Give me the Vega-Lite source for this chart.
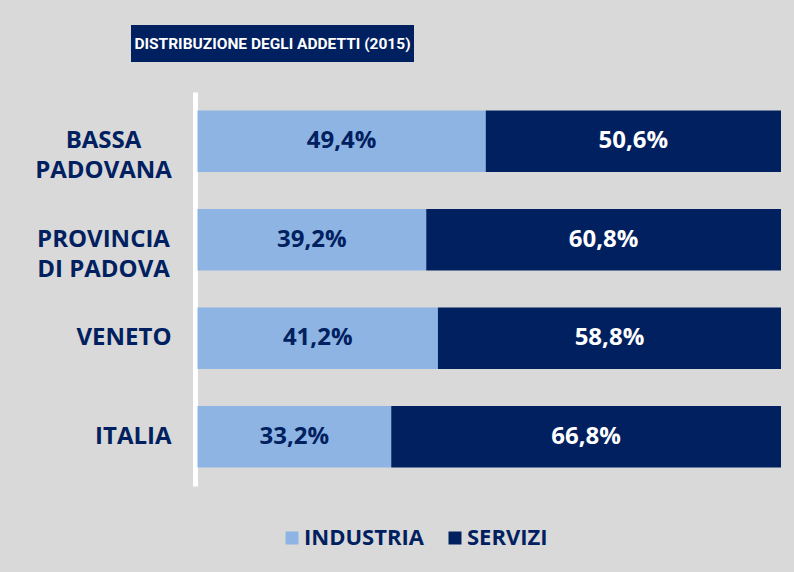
{
  "$schema": "https://vega.github.io/schema/vega-lite/v6.json",
  "background": "#d9d9d9",
  "padding": {"left": 34, "top": 25, "right": 14, "bottom": 90},
  "spacing": 30,
  "bounds": "flush",
  "config": {
    "locale": {"number": {"decimal": ",", "thousands": ".", "grouping": [3], "currency": ["€", ""]}},
    "view": {"stroke": null},
    "font": "Open Sans"
  },
  "vconcat": [
    {
      "width": 283,
      "height": 37,
      "view": {"fill": "#002060", "stroke": null},
      "data": {"values": [{"title": "DISTRIBUZIONE DEGLI ADDETTI (2015)"}]},
      "mark": {"type": "text", "font": "Roboto", "fontWeight": "bold", "fontSize": 15.5, "color": "white", "align": "center", "baseline": "middle"},
      "encoding": {"text": {"field": "title", "type": "nominal"}}
    },
    {
      "width": 650,
      "height": 394,
      "data": {
        "values": [
          {"Region": "BASSA PADOVANA", "Sector": "INDUSTRIA", "share": 0.494},
          {"Region": "BASSA PADOVANA", "Sector": "SERVIZI", "share": 0.506},
          {"Region": "PROVINCIA DI PADOVA", "Sector": "INDUSTRIA", "share": 0.392},
          {"Region": "PROVINCIA DI PADOVA", "Sector": "SERVIZI", "share": 0.608},
          {"Region": "VENETO", "Sector": "INDUSTRIA", "share": 0.412},
          {"Region": "VENETO", "Sector": "SERVIZI", "share": 0.588},
          {"Region": "ITALIA", "Sector": "INDUSTRIA", "share": 0.332},
          {"Region": "ITALIA", "Sector": "SERVIZI", "share": 0.668}
        ]
      },
      "encoding": {
        "y": {
          "field": "Region",
          "type": "nominal",
          "sort": ["BASSA PADOVANA", "PROVINCIA DI PADOVA", "VENETO", "ITALIA"],
          "scale": {"paddingInner": 0.376, "paddingOuter": 0.188},
          "axis": {
            "title": null,
            "offset": -64,
            "domainColor": "white",
            "domainWidth": 5,
            "ticks": false,
            "tickSize": 0,
            "labelFont": "Open Sans",
            "labelFontSize": 24,
            "labelFontWeight": "bold",
            "labelColor": "#002060",
            "labelLineHeight": 30,
            "labelLimit": 300,
            "labelExpr": "datum.value == 'BASSA PADOVANA' ? ['BASSA', 'PADOVANA'] : datum.value == 'PROVINCIA DI PADOVA' ? ['PROVINCIA', 'DI PADOVA'] : datum.value",
            "labelAlign": {"condition": {"test": "length(datum.value) > 10", "value": "center"}, "value": "right"},
            "labelPadding": {"condition": {"test": "length(datum.value) > 10", "value": 92}, "value": 24}
          }
        }
      },
      "layer": [
        {
          "mark": {"type": "bar"},
          "encoding": {
            "x": {"field": "share", "type": "quantitative", "stack": "zero", "scale": {"domain": [-0.114, 1], "nice": false, "zero": false}, "axis": null},
            "color": {
              "field": "Sector",
              "type": "nominal",
              "scale": {"domain": ["INDUSTRIA", "SERVIZI"], "range": ["#8db4e2", "#002060"]},
              "legend": {
                "orient": "none",
                "legendX": 150,
                "legendY": 502,
                "direction": "horizontal",
                "title": null,
                "symbolType": "square",
                "symbolSize": 169,
                "symbolStrokeWidth": 0,
                "labelFont": "Open Sans",
                "labelFontSize": 22,
                "labelFontWeight": "bold",
                "labelColor": "#002060",
                "labelOffset": 1,
                "columnPadding": 20,
                "padding": 0
              }
            },
            "order": {"field": "Sector", "type": "ordinal", "sort": "ascending"}
          }
        },
        {
          "transform": [
            {"stack": "share", "groupby": ["Region"], "sort": [{"field": "Sector", "order": "ascending"}], "as": ["s0", "s1"]},
            {"fold": ["s0", "s1"], "as": ["edge", "pos"]}
          ],
          "mark": {"type": "text", "font": "Open Sans", "fontSize": 24, "fontWeight": "bold", "align": "center", "baseline": "middle"},
          "encoding": {
            "x": {"aggregate": "mean", "field": "pos", "type": "quantitative"},
            "text": {"field": "share", "type": "quantitative", "format": ".1%"},
            "detail": {"field": "Sector", "type": "nominal"},
            "color": {"condition": {"test": "datum.Sector == 'SERVIZI'", "value": "white"}, "value": "#002060"}
          }
        }
      ]
    }
  ]
}
